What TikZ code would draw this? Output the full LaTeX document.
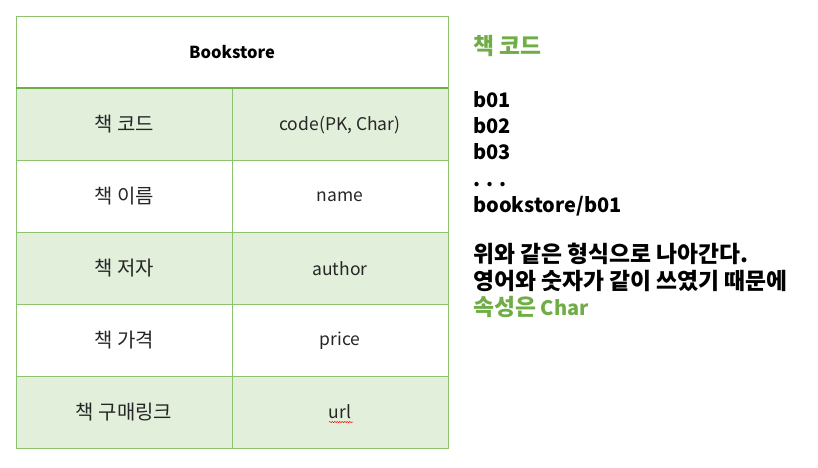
\documentclass[tikz,border=0pt]{standalone}
\usepackage{fontspec}
\setmainfont{Noto Sans CJK KR}
\newfontfamily\krfont{Noto Sans CJK KR}[Scale=1.14]
\newcommand{\K}[1]{{\krfont #1}}
\usetikzlibrary{decorations.pathmorphing}
\definecolor{gline}{HTML}{8DC26F}
\definecolor{gdark}{HTML}{70AD47}
\definecolor{gfill}{HTML}{E2EFDA}
\begin{document}
\begin{tikzpicture}[x=1pt,y=-1pt,
  cell/.style={font=\fontsize{17.5}{20}\selectfont, text=black!85},
  rtext/.style={anchor=base west, inner sep=0pt, font=\fontsize{20}{24}\bfseries\selectfont},
  grid/.style={draw=gline, line width=1pt}]
\useasboundingbox (0,0) rectangle (818,467);
% fills
\fill[gfill] (16,88) rectangle (448,160);
\fill[gfill] (16,232) rectangle (448,304);
\fill[gfill] (16,376) rectangle (448,448);
% grid
\draw[grid] (16,16) rectangle (448,448);
\foreach \y in {160,232,304,376} \draw[grid] (16,\y) -- (448,\y);
\draw[grid] (232,88) -- (232,448);
\draw[draw=gdark, line width=1.3pt] (16,88) -- (448,88);
% header
\node[font=\fontsize{16.5}{19}\bfseries\selectfont] (hdr) at (232,52) {Bookstore};
% cells
\node[cell] (k1) at (124,124) {\K{책 코드}};
\node[cell] (e1) at (340,125) {code(PK, Char)};
\node[cell] (k2) at (124,196) {\K{책 이름}};
\node[cell] (e2) at (340,197) {name};
\node[cell] (k3) at (124,268) {\K{책 저자}};
\node[cell] (e3) at (340,269) {author};
\node[cell] (k4) at (124,340) {\K{책 가격}};
\node[cell] (e4) at (340,341) {price};
\node[cell] (k5) at (124,412) {\K{책 구매링크}};
\node[cell] (e5) at (340,412) {url};
\draw[red, line width=0.5pt, decorate, decoration={snake, amplitude=0.6pt, segment length=2.5pt}] (329,422) -- (353,422);
% right text
\node[rtext, text=gdark] (t0) at (473,54) {\K{책 코드}};
\node[rtext] (t1) at (473,107) {b01};
\node[rtext] (t2) at (473,133) {b02};
\node[rtext] (t3) at (473,159) {b03};
\node[rtext] (t4) at (473,186) {. . .};
\node[rtext] (t5) at (473,212) {bookstore/b01};
\node[rtext] (t6) at (473,262) {\K{위와 같은 형식으로 나아간다.}};
\node[rtext] (t7) at (473,289) {\K{영어와 숫자가 같이 쓰였기 때문에}};
\node[rtext, text=gdark] (t8) at (473,315) {\K{속성은} Char};
\end{tikzpicture}
\end{document}
